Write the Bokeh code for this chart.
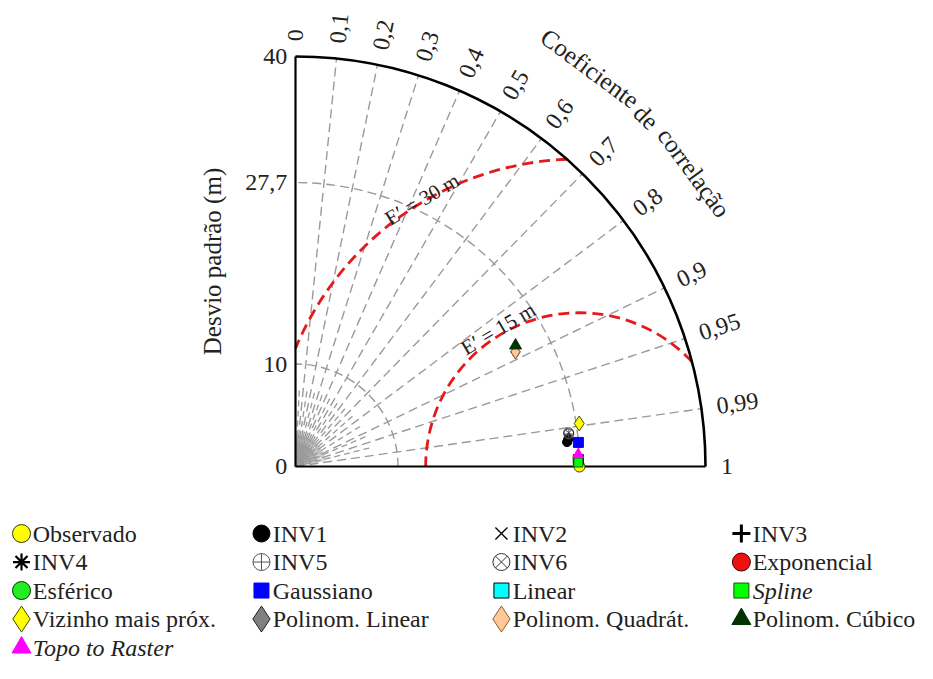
import numpy as np
from bokeh.plotting import figure
from bokeh.models import Range1d, ColumnDataSource
from bokeh.core.properties import value
from bokeh.embed import file_html
from bokeh.resources import INLINE

# ---------------- data ----------------
series = ["Observado", "INV1", "INV2", "INV3", "INV4", "INV5", "INV6",
          "Exponencial", "Esférico", "Gaussiano", "Linear", "Spline",
          "Vizinho mais próx.", "Polinom. Linear", "Polinom. Quadrát.",
          "Polinom. Cúbico", "Topo to Raster"]
std_dev = [27.7, 26.6, 26.75, 26.8, 26.7, 26.85, 26.85,
           27.6, 27.6, 27.7, 27.6, 27.6,
           28.0, 24.2, 24.2, 24.5, 27.6]
correlation = [1.0, 0.996, 0.9945, 0.995, 0.9955, 0.993, 0.9925,
               0.9998, 0.9997, 0.9964, 0.9997, 0.9999,
               0.9887, 0.8868, 0.8868, 0.8763, 0.9991]

ref_std = 27.7
max_std = 40.0
std_ticks = [0, 10, 27.7, 40]
std_tick_labels = ["0", "10", "27,7", "40"]
corr_ticks = [0, 0.1, 0.2, 0.3, 0.4, 0.5, 0.6, 0.7, 0.8, 0.9, 0.95, 0.99, 1]
corr_tick_labels = ["0", "0,1", "0,2", "0,3", "0,4", "0,5", "0,6", "0,7",
                    "0,8", "0,9", "0,95", "0,99", "1"]
std_arcs = [10, 27.7]
rms_levels = [15, 30]
rms_labels = ["E\u2032 = 15 m", "E\u2032 = 30 m"]
x_title = ["Coeficiente", "de", "correlação"]
y_title = "Desvio padrão (m)"

# ---------------- styles ----------------
markers = ["circle", "circle", "x", "cross", "asterisk", "circle_cross", "circle_x",
           "circle", "circle", "square", "square", "square",
           "diamond", "diamond", "diamond", "triangle", "triangle"]
fills = ["#ffff00", "#000000", "#00000000", "#00000000", "#00000000", "#00000000", "#00000000",
         "#ee1111", "#22ee22", "#0000ff", "#00ffff", "#00ff00",
         "#ffff00", "#808080", "#ffc896", "#003300", "#ff00ff"]
lines = ["#3a3a00", "#000000", "#000000", "#000000", "#000000", "#555555", "#333333",
         "#440000", "#003300", "#0000ff", "#000000", "#115511",
         "#4a4a00", "#222222", "#8a5a30", "#003300", "#ff00ff"]
lwidths = [1, 1, 1.3, 3, 2.2, 1, 1, 1, 1, 1, 1, 1, 1, 1, 1, 1, 1]
plot_sizes = [11, 9, 9, 11, 10, 10, 10, 10, 10, 10, 10, 9, 15, 14, 14, 12, 11]
leg_sizes = [18, 17, 17, 18, 17, 17, 17, 18, 18, 15, 15, 15, 26, 26, 26, 19, 19]
font_styles = ["normal"] * len(series)
font_styles[series.index("Spline")] = "italic"
font_styles[series.index("Topo to Raster")] = "italic"

FONT = value("Liberation Serif")
GRAY = "#9a9a9a"
RED = "#e41a1c"
TXT = "#222222"

# ---------------- layout ----------------
PX = 10.25          # pixels per std unit
W, H = 917, 663
OX, OY = 295, 466   # canvas position of the origin

p = figure(width=W, height=H, output_backend="svg", toolbar_location=None,
           x_range=Range1d(-OX / PX, (W - OX) / PX),
           y_range=Range1d(-(H - OY) / PX, OY / PX),
           min_border=0, min_border_left=0, min_border_right=0,
           min_border_top=0, min_border_bottom=0)
p.xaxis.visible = False
p.yaxis.visible = False
p.grid.visible = False
p.outline_line_color = None
p.background_fill_color = "white"
p.border_fill_color = "white"

# ---------------- grid ----------------
dense = [c for c in np.round(np.arange(0.01, 1.0, 0.01), 2) if c not in corr_ticks]
th = np.arccos(dense)
p.segment(x0=[0] * len(th), y0=[0] * len(th), x1=3.0 * np.cos(th), y1=3.0 * np.sin(th),
          line_color=GRAY, line_width=0.8, line_alpha=0.6)
minor = [c for c in np.round(np.arange(0.05, 0.9, 0.1), 2)] + [0.92, 0.97]
th = np.arccos(minor)
p.segment(x0=[0] * len(th), y0=[0] * len(th), x1=7.5 * np.cos(th), y1=7.5 * np.sin(th),
          line_color=GRAY, line_width=1.3, line_dash="6 4")
p.wedge(x=0, y=0, radius=0.9, start_angle=0, end_angle=np.pi / 2,
        fill_color="#7a7a7a", line_color=None)

major = [c for c in corr_ticks if 0 < c < 1]
th = np.arccos(major)
p.segment(x0=[0] * len(th), y0=[0] * len(th),
          x1=max_std * np.cos(th), y1=max_std * np.sin(th),
          line_color=GRAY, line_width=1.4, line_dash="9 5")

p.arc(x=[0] * len(std_arcs), y=[0] * len(std_arcs), radius=std_arcs,
      start_angle=0, end_angle=np.pi / 2,
      line_color=GRAY, line_width=1.4, line_dash="9 5")

# centred RMS difference arcs
for E, lab in zip(rms_levels, rms_labels):
    phi_out = np.arccos((max_std ** 2 - ref_std ** 2 - E ** 2) / (2 * ref_std * E))
    phi_in = np.pi if E <= ref_std else np.arccos(-ref_std / E)
    p.arc(x=ref_std, y=0, radius=E, start_angle=phi_out, end_angle=phi_in,
          direction="anticlock", line_color=RED, line_width=2.8, line_dash="11 6")
    phi = np.radians(120.5)
    rr = E + (0.6 if E <= ref_std else 0.25)
    p.text(x=[ref_std + rr * np.cos(phi)], y=[rr * np.sin(phi)], text=[lab],
           angle=phi - np.pi / 2, text_align="center", text_baseline="middle",
           text_font=FONT, text_font_size="21px", text_color=TXT)

# frame: axes + outer arc
p.segment(x0=[0, 0], y0=[0, 0], x1=[0, max_std], y1=[max_std, 0],
          line_color="black", line_width=2.2)
p.arc(x=0, y=0, radius=max_std, start_angle=0, end_angle=np.pi / 2,
      line_color="black", line_width=2.6)

# std tick labels
p.text(x=[-0.8] * len(std_ticks), y=std_ticks, text=std_tick_labels,
       text_align="right", text_baseline="middle",
       text_font=FONT, text_font_size="24px", text_color=TXT)

# correlation tick labels
th = np.arccos(corr_ticks)
p.text(x=41.5 * np.cos(th), y=41.5 * np.sin(th), text=corr_tick_labels, angle=th,
       text_align="left", text_baseline="middle",
       text_font=FONT, text_font_size="24px", text_color=TXT)

# titles
ta = np.radians([53.5, 44.9, 36.4])
p.text(x=48.3 * np.cos(ta), y=48.3 * np.sin(ta), text=x_title, angle=ta - np.pi / 2,
       text_align="center", text_baseline="middle",
       text_font=FONT, text_font_size="25px", text_color=TXT)
p.text(x=[-8.1], y=[max_std / 2], text=[y_title], angle=np.pi / 2,
       text_align="center", text_baseline="middle",
       text_font=FONT, text_font_size="25px", text_color=TXT)

# ---------------- points ----------------
cr = np.array(correlation)
sd = np.array(std_dev)
src = ColumnDataSource(dict(x=sd * cr, y=sd * np.sqrt(1 - cr ** 2), name=series,
                            marker=markers, fill=fills, line=lines, lw=lwidths,
                            size=plot_sizes))
p.scatter(x="x", y="y", marker="marker", size="size", fill_color="fill",
          line_color="line", line_width="lw", source=src)

# ---------------- legend (4 columns, row-major) ----------------
n = len(series)
col = np.arange(n) % 4
row = np.arange(n) // 4
leg_left, col_step = -26.73, 23.41          # std units (PX px each)
leg_top, row_step = -6.54, 28.5 / PX
lx = leg_left + col * col_step
ly = leg_top - row * row_step
lsrc = ColumnDataSource(dict(x=lx, y=ly, tx=lx + 1.1, name=series, marker=markers,
                             fill=fills, line=lines, lw=lwidths, size=leg_sizes,
                             fs=font_styles))
p.scatter(x="x", y="y", marker="marker", size="size", fill_color="fill",
          line_color="line", line_width="lw", source=lsrc)
p.text(x="tx", y="y", text="name", text_font_style="fs", source=lsrc,
       text_align="left", text_baseline="middle",
       text_font=FONT, text_font_size="24px", text_color=TXT)

open("out.html", "w").write(file_html(p, INLINE))
